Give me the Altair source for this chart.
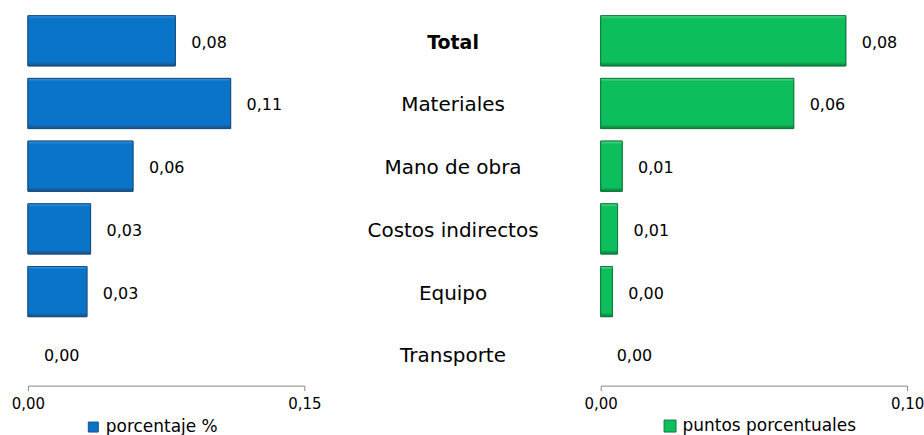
import altair as alt
import pandas as pd

# ---- data ----
categorias = ["Total", "Materiales", "Mano de obra", "Costos indirectos", "Equipo", "Transporte"]
porcentaje = [0.080, 0.110, 0.057, 0.034, 0.032, 0.0]
puntos = [0.080, 0.063, 0.007, 0.0055, 0.0038, 0.0]
serie_izq = "porcentaje %"
serie_der = "puntos porcentuales"
ticks_izq = [0, 0.15]
ticks_der = [0, 0.10]
negrita = ["Total"]

H = 377
W_L = 277
W_M = 263
W_R = 307

df_l = pd.DataFrame({"cat": categorias, "valor": porcentaje, "serie": serie_izq})
df_r = pd.DataFrame({"cat": categorias, "valor": puntos, "serie": serie_der})
df_m = pd.DataFrame({"cat": categorias, "bold": [c in negrita for c in categorias]})

yenc = alt.Y("cat:N", sort=categorias, axis=None,
             scale=alt.Scale(paddingInner=0.2, paddingOuter=0.1))

LBL = "replace(format(datum.valor, '.2f'), '.', ',')"


def panel(df, width, domain, ticks, color, light, dark, lx, ly, lfs, ssize):
    x = alt.X("valor:Q", scale=alt.Scale(domain=domain, nice=False),
              axis=alt.Axis(values=ticks, title=None, grid=False,
                            labelExpr="replace(format(datum.value, '.2f'), '.', ',')",
                            domainColor="#868686", tickColor="#868686", tickSize=5,
                            labelFont="DejaVu Sans", labelFontSize=15, labelColor="#000000",
                            labelPadding=6, labelFlush=False, labelOverlap=False))
    base = alt.Chart(df).encode(y=yenc)
    bars = base.transform_filter("datum.valor > 0").mark_bar(stroke=dark, strokeWidth=1).encode(
        x=x,
        color=alt.Color("serie:N", scale=alt.Scale(range=[color]),
                        legend=alt.Legend(title=None, orient="none", legendX=lx, legendY=ly,
                                          symbolType="square", symbolSize=ssize,
                                          symbolStrokeColor=dark, symbolStrokeWidth=1,
                                          labelFont="DejaVu Sans", labelFontSize=lfs,
                                          labelLimit=400,
                                          labelColor="#000000", labelOffset=4, padding=0)))
    grad = alt.Gradient(gradient="linear",
                        stops=[alt.GradientStop(offset=0, color=light),
                               alt.GradientStop(offset=0.06, color=color),
                               alt.GradientStop(offset=0.92, color=color),
                               alt.GradientStop(offset=1, color=dark)],
                        x1=0, x2=0, y1=0, y2=1)
    overlay = base.transform_filter("datum.valor > 0").mark_bar(
        fill=grad, stroke=dark, strokeWidth=1).encode(x=x)
    labels = base.transform_calculate(lbl=LBL).mark_text(
        align="left", baseline="middle", dx=16, dy=2, font="DejaVu Sans",
        fontSize=16, color="#000000").encode(x=x, text="lbl:N")
    return alt.layer(bars, overlay, labels).properties(width=width, height=H)


left = panel(df_l, W_L, [0, 0.15], ticks_izq, "#0A74C8", "#3A98E6", "#1A4E80", 57, 410, 17, 100)
right = panel(df_r, W_R, [0, 0.10], ticks_der, "#0CBF5C", "#5EE08E", "#0E7A3C", 61, 409, 17, 144)

mid_base = alt.Chart(df_m).encode(y=yenc, x=alt.value(132), text="cat:N")
mid_norm = mid_base.transform_filter("!datum.bold").mark_text(
    font="DejaVu Sans", fontSize=20, color="#000000", baseline="middle", dy=2)
mid_bold = mid_base.transform_filter("datum.bold").mark_text(
    font="DejaVu Sans", fontSize=19, fontWeight="bold", color="#000000", baseline="middle", dy=2)
middle = alt.layer(mid_norm, mid_bold).properties(width=W_M, height=H)

chart = alt.hconcat(left, middle, right, spacing=0).resolve_scale(
    color="independent", x="independent", y="independent"
).resolve_legend(color="independent").properties(
    padding={"left": 11, "top": 9, "right": 0, "bottom": 0}
).configure_view(stroke=None)

chart.save("out.html", embed_options={"renderer": "svg", "actions": False})
